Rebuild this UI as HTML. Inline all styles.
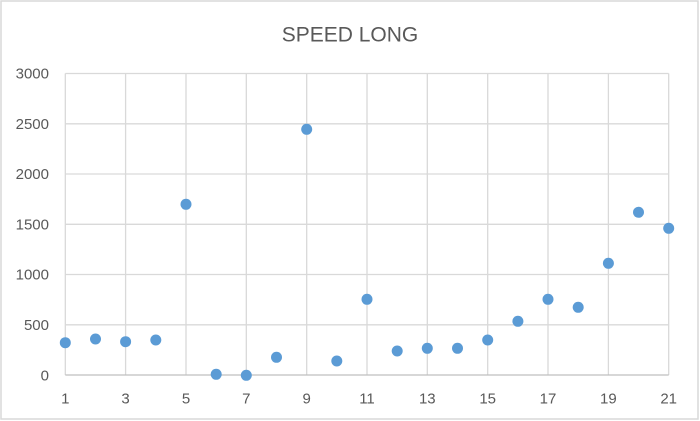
<!DOCTYPE html>
<html><head><meta charset="utf-8"><style>
html,body{margin:0;padding:0;background:#fff;}
svg{display:block;}
text{font-family:"Liberation Sans",sans-serif;fill:#595959;}
</style></head><body>
<svg width="700" height="421" viewBox="0 0 700 421" xmlns="http://www.w3.org/2000/svg">
<rect x="1" y="1" width="697" height="418" fill="#fff" stroke="#d9d9d9" stroke-width="1.5"/>
<text x="350" y="41.5" font-size="21" text-anchor="middle">SPEED LONG</text>
<g stroke="#d9d9d9" stroke-width="1.3">
<line x1="65.3" y1="73.5" x2="668.7" y2="73.5"/>
<line x1="65.3" y1="123.8" x2="668.7" y2="123.8"/>
<line x1="65.3" y1="174" x2="668.7" y2="174"/>
<line x1="65.3" y1="224.3" x2="668.7" y2="224.3"/>
<line x1="65.3" y1="274.5" x2="668.7" y2="274.5"/>
<line x1="65.3" y1="324.8" x2="668.7" y2="324.8"/>
<line x1="65.3" y1="73.5" x2="65.3" y2="375"/>
<line x1="125.6" y1="73.5" x2="125.6" y2="375"/>
<line x1="186" y1="73.5" x2="186" y2="375"/>
<line x1="246.3" y1="73.5" x2="246.3" y2="375"/>
<line x1="306.7" y1="73.5" x2="306.7" y2="375"/>
<line x1="367" y1="73.5" x2="367" y2="375"/>
<line x1="427.3" y1="73.5" x2="427.3" y2="375"/>
<line x1="487.7" y1="73.5" x2="487.7" y2="375"/>
<line x1="548" y1="73.5" x2="548" y2="375"/>
<line x1="608.4" y1="73.5" x2="608.4" y2="375"/>
<line x1="668.7" y1="73.5" x2="668.7" y2="375"/>
</g>
<line x1="65.3" y1="375" x2="668.7" y2="375" stroke="#bfbfbf" stroke-width="1.3"/>
<g font-size="15" text-anchor="end">
<text x="49" y="78.5">3000</text>
<text x="49" y="128.8">2500</text>
<text x="49" y="179">2000</text>
<text x="49" y="229.3">1500</text>
<text x="49" y="279.5">1000</text>
<text x="49" y="329.8">500</text>
<text x="49" y="380.5">0</text>
</g>
<g font-size="15" text-anchor="middle">
<text x="65.3" y="403.5">1</text>
<text x="125.6" y="403.5">3</text>
<text x="186" y="403.5">5</text>
<text x="246.3" y="403.5">7</text>
<text x="306.7" y="403.5">9</text>
<text x="367" y="403.5">11</text>
<text x="427.3" y="403.5">13</text>
<text x="487.7" y="403.5">15</text>
<text x="548" y="403.5">17</text>
<text x="608.4" y="403.5">19</text>
<text x="668.7" y="403.5">21</text>
</g>
<g fill="#5b9bd5">
<circle cx="65.3" cy="342.7" r="5.5"/>
<circle cx="95.5" cy="339" r="5.5"/>
<circle cx="125.6" cy="341.7" r="5.5"/>
<circle cx="155.8" cy="340" r="5.5"/>
<circle cx="186" cy="204.3" r="5.5"/>
<circle cx="216.2" cy="374.3" r="5.5"/>
<circle cx="246.3" cy="375.3" r="5.5"/>
<circle cx="276.5" cy="357.3" r="5.5"/>
<circle cx="306.7" cy="129.3" r="5.5"/>
<circle cx="336.8" cy="361" r="5.5"/>
<circle cx="367" cy="299.3" r="5.5"/>
<circle cx="397.2" cy="351" r="5.5"/>
<circle cx="427.3" cy="348.3" r="5.5"/>
<circle cx="457.5" cy="348.3" r="5.5"/>
<circle cx="487.7" cy="340" r="5.5"/>
<circle cx="517.9" cy="321.3" r="5.5"/>
<circle cx="548" cy="299.3" r="5.5"/>
<circle cx="578.2" cy="307.3" r="5.5"/>
<circle cx="608.4" cy="263.3" r="5.5"/>
<circle cx="638.5" cy="212.3" r="5.5"/>
<circle cx="668.7" cy="228.3" r="5.5"/>
</g>
</svg>
</body></html>
